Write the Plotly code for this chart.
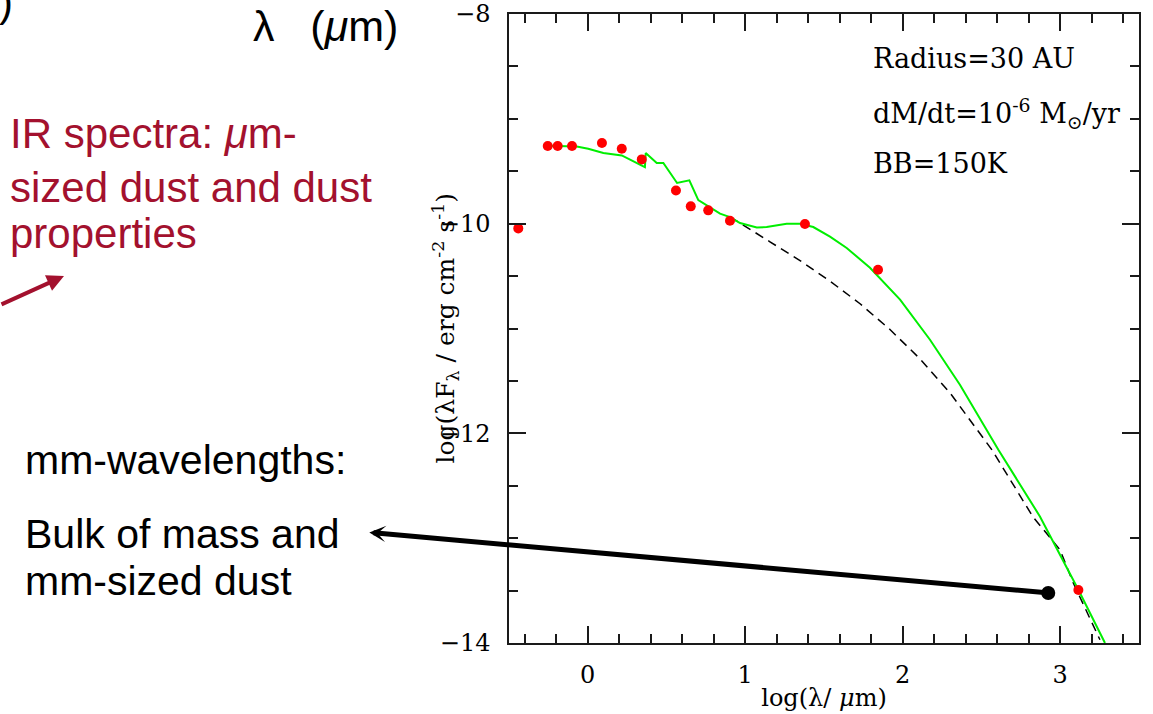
import plotly.graph_objects as go

# ---- Spectral energy distribution: log(lambda / um) vs log(lambda F_lambda) ----
# Observed photometry
obs_log_wl = [-0.441, -0.254, -0.191, -0.100, 0.090, 0.216, 0.343, 0.560,
              0.654, 0.765, 0.903, 1.379, 1.843, 3.115]
obs_log_flux = [-10.045, -9.259, -9.259, -9.259, -9.231, -9.285, -9.387, -9.683,
                -9.835, -9.873, -9.972, -10.003, -10.439, -13.495]

# Disc model including the 150 K blackbody
model_log_wl = [-0.261, -0.070, 0.003, 0.099, 0.216, 0.363, 0.368, 0.438, 0.480,
                0.567, 0.645, 0.702, 0.840, 0.903, 0.967, 1.073, 1.136, 1.263,
                1.348, 1.432, 1.538, 1.644, 1.792, 1.983, 2.173, 2.363, 2.607,
                2.871, 3.115, 3.284]
model_log_flux = [-9.256, -9.263, -9.285, -9.326, -9.349, -9.461, -9.326, -9.421,
                  -9.421, -9.612, -9.587, -9.776, -9.905, -9.937, -9.994, -10.036,
                  -10.032, -10.000, -10.000, -10.032, -10.124, -10.232, -10.420,
                  -10.725, -11.107, -11.536, -12.156, -12.793, -13.492, -14.000]

# Disc model without the blackbody component
base_log_wl = [0.903, 0.967, 1.157, 1.348, 1.538, 1.729, 1.919, 2.110, 2.300,
               2.565, 2.827, 2.998, 3.083, 3.252]
base_log_flux = [-9.937, -9.994, -10.173, -10.353, -10.548, -10.764, -11.010,
                 -11.290, -11.614, -12.155, -12.797, -13.110, -13.428, -13.969]

# Millimetre point highlighted by the arrow
mm_log_wl = [2.924]
mm_log_flux = [-13.523]

x_tick_vals = [0, 1, 2, 3]
y_tick_vals = [-14, -12, -10, -8]
y_tick_text = ["\u221214", "\u221212", "\u221210", "\u22128"]

# ---- figure geometry ----
W, H = 1153, 714
ML, MR, MT, MB = 509, 14, 14, 71
PW, PH = W - ML - MR, H - MT - MB


def paper(px, py):
    """Convert figure pixel position to paper coordinates."""
    return (px - ML) / PW, (H - MB - py) / PH


SERIF = "DejaVu Serif"
SANS = "Liberation Sans, Arial, sans-serif"
AXIS_COL = "#1a1a1a"
RED_TXT = "#A3112E"

fig = go.Figure()

fig.add_trace(go.Scatter(
    x=base_log_wl, y=base_log_flux, mode="lines",
    line=dict(color="black", width=1.5, dash="9px,6px"),
    hoverinfo="skip", showlegend=False))

fig.add_trace(go.Scatter(
    x=model_log_wl, y=model_log_flux, mode="lines",
    line=dict(color="#00ee00", width=2),
    showlegend=False))

fig.add_trace(go.Scatter(
    x=obs_log_wl, y=obs_log_flux, mode="markers",
    marker=dict(color="#ff0000", size=10),
    showlegend=False))

fig.add_trace(go.Scatter(
    x=mm_log_wl, y=mm_log_flux, mode="markers",
    marker=dict(color="black", size=14),
    showlegend=False))

axis_common = dict(
    showline=True, linecolor=AXIS_COL, linewidth=1.5, mirror="allticks",
    ticks="inside", ticklen=17, tickwidth=1.5, tickcolor=AXIS_COL,
    showgrid=False, zeroline=False,
    tickfont=dict(family=SERIF, size=24, color="black"),
)

fig.update_xaxes(
    range=[-0.5, 3.5], tickvals=x_tick_vals, ticklabelstandoff=9,
    minor=dict(dtick=0.2, tick0=0, ticks="inside", ticklen=9,
               tickwidth=1.5, tickcolor=AXIS_COL, showgrid=False),
    title=dict(text="log(\u03bb/ <i>\u03bc</i>m)",
               font=dict(family=SERIF, size=24, color="black"), standoff=2),
    **axis_common)

fig.update_yaxes(
    range=[-14, -8], tickvals=y_tick_vals, ticktext=y_tick_text,
    ticklabelstandoff=12,
    minor=dict(dtick=0.5, tick0=0, ticks="inside", ticklen=9,
               tickwidth=1.5, tickcolor=AXIS_COL, showgrid=False),
    **axis_common)

annotations = []

# y-axis title
yx, _ = paper(445, 0)
annotations.append(dict(
    xref="paper", yref="paper", x=yx, y=0.5, xanchor="center", yanchor="middle",
    textangle=-90, showarrow=False,
    text="log(\u03bbF<sub>\u03bb</sub> / erg cm<sup>-2</sup> s<sup>-1</sup>)",
    font=dict(family=SERIF, size=25, color="black")))

# model parameters
for label, py in [("Radius=30 AU", 58),
                  ("dM/dt=10<sup>-6</sup> M<sub>\u2299</sub>/yr", 113),
                  ("BB=150K", 164)]:
    px_, py_ = paper(871, py)
    annotations.append(dict(
        xref="paper", yref="paper", x=px_, y=py_, xanchor="left",
        yanchor="middle", showarrow=False, text=label,
        font=dict(family=SERIF, size=27, color="black")))

# slide text to the left of the plot
side_text = [
    (")", -3, 1, "middle", "black", 42),
    ("\u03bb   (<i>\u03bc</i>m)", 251, 0, "top", "black", 43),
    ("IR spectra: <i>\u03bc</i>m-", 8, 134, "middle", RED_TXT, 42),
    ("sized dust and dust", 8, 187, "middle", RED_TXT, 42),
    ("properties", 8, 234, "middle", RED_TXT, 42),
    ("mm-wavelengths:", 23, 460, "middle", "black", 41),
    ("Bulk of mass and", 23, 534, "middle", "black", 41),
    ("mm-sized dust", 23, 581, "middle", "black", 41),
]
for text, px, py, yanc, col, fs in side_text:
    ax_, ay_ = paper(px, py)
    annotations.append(dict(
        xref="paper", yref="paper", x=ax_, y=ay_, xanchor="left",
        yanchor=yanc, showarrow=False, text=text,
        font=dict(family=SANS, size=fs, color=col)))

# red arrow pointing up-right toward the spectrum
hx, hy = paper(64, 276)
annotations.append(dict(
    xref="paper", yref="paper", x=hx, y=hy, axref="pixel", ayref="pixel",
    ax=-64, ay=29, text="", showarrow=True, arrowhead=2, arrowsize=0.85,
    arrowwidth=4, arrowcolor=RED_TXT))

# black arrow from the millimetre point to the text
annotations.append(dict(
    xref="x", yref="y", x=-1.387, y=-12.945, axref="x", ayref="y",
    ax=mm_log_wl[0], ay=mm_log_flux[0], text="", showarrow=True,
    arrowhead=3, arrowsize=0.55, arrowwidth=5, arrowcolor="black"))

fig.update_layout(
    width=W, height=H,
    margin=dict(l=ML, r=MR, t=MT, b=MB, autoexpand=False),
    paper_bgcolor="white", plot_bgcolor="white",
    showlegend=False, annotations=annotations)

fig.write_html("out.html")
